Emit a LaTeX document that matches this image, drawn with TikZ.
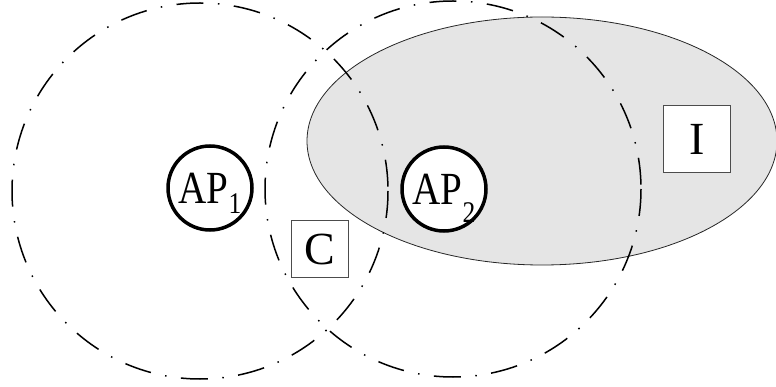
\documentclass[tikz,border=0pt]{standalone}
\usepackage{fontspec}
\setmainfont{Liberation Serif}
\usepackage{graphicx}

\newcommand{\bigfont}{\fontsize{46}{46}\selectfont}
\newcommand{\apname}[2]{\scalebox{0.85}[1]{AP\raisebox{-#2}[0pt][0pt]{\fontsize{30}{30}\selectfont #1}}}

\tikzset{
  coverage/.style={line width=1.5pt, dash pattern=on 27pt off 14.5pt on 1.5pt off 14.5pt},
  interference/.style={draw=black!85, line width=0.8pt, fill=black!10},
  accesspoint/.style={circle, draw, line width=3.5pt, fill=white, minimum size=84pt, inner sep=0pt, font=\bigfont},
  station/.style={draw=black!70, line width=1pt, fill=white, inner sep=0pt, font=\bigfont},
}

\begin{document}
\begin{tikzpicture}[x=1pt,y=-1pt]
  \useasboundingbox (0,0) rectangle (776,387);

  % Interference region
  \draw[interference] (542,141) ellipse [x radius=235, y radius=124];

  % Coverage of both access points
  \draw[coverage] (200,191) circle (188);
  \draw[coverage] (453,189) circle (188);

  % Access points
  \node[accesspoint] (ap1) at (210,188) {\apname{1}{10pt}};
  \node[accesspoint] (ap2) at (444,189) {\apname{2}{18pt}};

  % Client and interferer
  \node[station, minimum size=57pt] (client) at (320,249) {C};
  \node[station, minimum size=67pt] (intf) at (697,139) {I};

\end{tikzpicture}
\end{document}
